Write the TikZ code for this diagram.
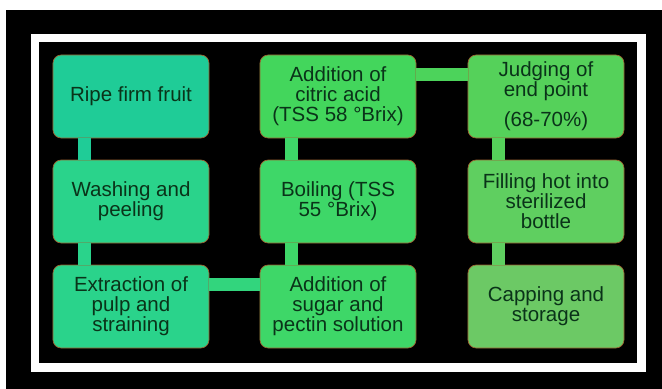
\documentclass[tikz,border=0pt]{standalone}
\usepackage{fontspec}
\setmainfont{Liberation Sans}
\definecolor{boxedge}{HTML}{9A6030}
\definecolor{darktext}{HTML}{0A3319}
\definecolor{fruitgreen}{HTML}{1FCC97}
\definecolor{washgreen}{HTML}{2AD38B}
\definecolor{boilgreen}{HTML}{3ED768}
\definecolor{citricgreen}{HTML}{43D65C}
\definecolor{judgegreen}{HTML}{55D15A}
\definecolor{fillgreen}{HTML}{5FCF60}
\definecolor{capgreen}{HTML}{6CC965}

\tikzset{
  stage/.style={draw=boxedge, line width=0.6pt, rounded corners=7pt,
    minimum width=4.68cm, minimum height=2.49cm, inner sep=2pt,
    align=center, text=darktext, font=\fontsize{17.5}{17}\selectfont},
  bar/.style={line width=11.5pt}
}

\begin{document}
\begin{tikzpicture}[x=0.03cm,y=-0.03cm]
\useasboundingbox (0,0) rectangle (662,389);
\fill[white] (0,0) rectangle (662,389);
\fill[black] (6,10) rectangle (662,389);
\draw[white,line width=7pt] (35,38) rectangle (641.5,367.5);
% first column
\node[stage,fill=fruitgreen] (fruit) at (131,96.5) {Ripe firm fruit};
\node[stage,fill=washgreen] (washing) at (131,201.5) {Washing and\\peeling};
\node[stage,fill=washgreen] (extraction) at (131,306.5) {Extraction of\\pulp and\\straining};
% second column
\node[stage,fill=citricgreen] (citric) at (338,96.5) {Addition of\\citric acid\\(TSS 58 °Brix)};
\node[stage,fill=boilgreen] (boiling) at (338,201.5) {Boiling (TSS\\55 °Brix)};
\node[stage,fill=boilgreen] (sugar) at (338,306.5) {Addition of\\sugar and\\pectin solution};
% third column
\node[stage,fill=judgegreen] (judging) at (546,96.5) {Judging of\\end point\\[9pt](68-70\%)};
\node[stage,fill=fillgreen] (filling) at (546,201.5) {Filling hot into\\sterilized\\bottle};
\node[stage,fill=capgreen] (capping) at (546,306.5) {Capping and\\storage};

\draw[bar,fruitgreen] ([xshift=0.96cm]fruit.south west) -- ([xshift=0.96cm]washing.north west);
\draw[bar,washgreen] ([xshift=0.96cm]washing.south west) -- ([xshift=0.96cm]extraction.north west);
\draw[bar,washgreen!60!boilgreen] ([yshift=-0.6cm]extraction.north east) -- ([yshift=-0.6cm]sugar.north west);
\draw[bar,boilgreen] ([xshift=0.96cm]sugar.north west) -- ([xshift=0.96cm]boiling.south west);
\draw[bar,boilgreen] ([xshift=0.96cm]boiling.north west) -- ([xshift=0.96cm]citric.south west);
\draw[bar,citricgreen!50!judgegreen] ([yshift=-0.6cm]citric.north east) -- ([yshift=-0.6cm]judging.north west);
\draw[bar,judgegreen] ([xshift=0.93cm]judging.south west) -- ([xshift=0.93cm]filling.north west);
\draw[bar,fillgreen] ([xshift=0.93cm]filling.south west) -- ([xshift=0.93cm]capping.north west);
\end{tikzpicture}
\end{document}
